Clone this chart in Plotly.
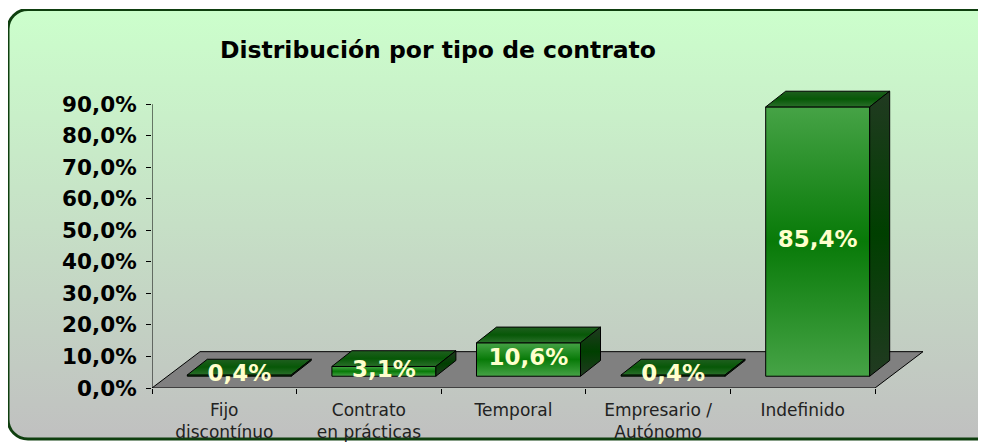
import base64
import plotly.graph_objects as go

# ---- data ----
categories = ["Fijo<br>discontínuo", "Contrato<br>en prácticas", "Temporal",
              "Empresario /<br>Autónomo", "Indefinido"]
values = [0.4, 3.1, 10.6, 0.4, 85.4]
y_tick_values = [0, 10, 20, 30, 40, 50, 60, 70, 80, 90]
y_tick_labels = [f"{v:.1f}".replace(".", ",") + "%" for v in y_tick_values]
value_labels = [f"{v:.1f}".replace(".", ",") + "%" for v in values]
title_text = "Distribución por tipo de contrato"

# ---- layout constants (pixels, figure coordinates; the page adds an 8px body margin) ----
W, H = 986, 446
ML, MR, MT, MB = 144, 54, 52, 60
plot_w = W - ML - MR
plot_h = H - MT - MB
PX_PER_SLOT = 144.6
PX_PER_PCT = 3.211
X_MIN = -0.5
X_MAX = X_MIN + plot_w / PX_PER_SLOT
Y_MAX = plot_h / PX_PER_PCT
ux = 1.0 / PX_PER_SLOT   # data units per pixel (x)
uy = 1.0 / PX_PER_PCT    # data units per pixel (y)

FLOOR_DX, FLOOR_DY = 48, 37
BAR_OFF_DX, BAR_OFF_DY = 15, 12
BAR_DEPTH_DX, BAR_DEPTH_DY = 20, 16
BAR_HALF_W = 52

FRONT_CS = [[0, "#46a346"], [0.5, "#087a08"], [1, "#46a346"]]
TOP_CS = [[0, "#2a6f2a"], [0.5, "#075807"], [1, "#1f5f1f"]]
SIDE_CS = [[0, "#213a21"], [0.5, "#003f00"], [1, "#213a21"]]

fig = go.Figure()

n = len(categories)
# floor
fx = [X_MIN, X_MIN + n, X_MIN + n + FLOOR_DX * ux, X_MIN + FLOOR_DX * ux, X_MIN]
fy = [0, 0, FLOOR_DY * uy, FLOOR_DY * uy, 0]
fig.add_trace(go.Scatter(x=fx, y=fy, mode="lines", fill="toself",
                         fillcolor="#808080", line=dict(color="black", width=1),
                         hoverinfo="skip", showlegend=False))


def face(xs, ys, cs):
    fig.add_trace(go.Scatter(
        x=xs + [xs[0]], y=ys + [ys[0]], mode="lines", fill="toself",
        fillgradient=dict(type="vertical", colorscale=cs),
        line=dict(color="black", width=1), hoverinfo="skip", showlegend=False))


lab_x, lab_y = [], []
for i, v in enumerate(values):
    x0 = i + (BAR_OFF_DX - BAR_HALF_W) * ux
    x1 = i + (BAR_OFF_DX + BAR_HALF_W) * ux
    y0 = BAR_OFF_DY * uy
    y1 = y0 + v
    ddx, ddy = BAR_DEPTH_DX * ux, BAR_DEPTH_DY * uy
    face([x0, x1, x1, x0], [y0, y0, y1, y1], FRONT_CS)
    face([x0, x1, x1 + ddx, x0 + ddx], [y1, y1, y1 + ddy, y1 + ddy], TOP_CS)
    face([x1, x1 + ddx, x1 + ddx, x1], [y0, y0 + ddy, y1 + ddy, y1], SIDE_CS)
    lab_x.append(i + BAR_OFF_DX * ux)
    lab_y.append(y0 + v / 2)

fig.add_trace(go.Scatter(
    x=lab_x, y=lab_y, mode="text", text=value_labels,
    textposition="middle center",
    textfont=dict(family="DejaVu Sans", size=23, color="#ffffcc", weight="bold"),
    hoverinfo="skip", showlegend=False, cliponaxis=False))

# y axis line
fig.add_shape(type="line", x0=X_MIN, x1=X_MIN, y0=0, y1=y_tick_values[-1],
              xref="x", yref="y", line=dict(color="black", width=1))

# background with rounded border
svg = (
    f'<svg xmlns="http://www.w3.org/2000/svg" width="{W}" height="{H}" '
    f'viewBox="0 0 {W} {H}" preserveAspectRatio="none">'
    '<defs><linearGradient id="g" x1="0" y1="0" x2="0" y2="1">'
    '<stop offset="0" stop-color="#ccffcc"/><stop offset="1" stop-color="#c0c0c0"/>'
    '</linearGradient></defs>'
    '<rect x="0" y="0.5" width="990" height="437.5" rx="20" ry="20" '
    'fill="url(#g)" stroke="#0f3f0f" stroke-width="3"/></svg>'
)
src = "data:image/svg+xml;base64," + base64.b64encode(svg.encode("utf-8")).decode()
fig.add_layout_image(dict(
    source=src, xref="paper", yref="paper",
    x=-ML / plot_w, y=1 + MT / plot_h, sizex=W / plot_w, sizey=H / plot_h,
    xanchor="left", yanchor="top", sizing="stretch", layer="below"))

fig.update_layout(
    width=W, height=H,
    margin=dict(l=ML, r=MR, t=MT, b=MB, pad=0),
    paper_bgcolor="white", plot_bgcolor="rgba(0,0,0,0)",
    title=dict(text="<b>" + title_text + "</b>", x=430 / W, xanchor="center",
               y=1 - 42 / H, yanchor="middle", xref="container", yref="container",
               font=dict(family="DejaVu Sans", size=23.5, color="black")),
    xaxis=dict(range=[X_MIN, X_MAX], tickmode="array",
               tickvals=list(range(n)), ticktext=categories, ticks="",
               showgrid=False, zeroline=False, showline=False,
               ticklabelstandoff=10,
               tickfont=dict(family="DejaVu Sans", size=17, color="#222222"),
               minor=dict(tickmode="array",
                          tickvals=[X_MIN + k for k in range(n + 1)],
                          ticks="outside", ticklen=5, tickcolor="black",
                          tickwidth=1, showgrid=False),
               fixedrange=True),
    yaxis=dict(range=[0, Y_MAX], tickmode="array", tickvals=y_tick_values,
               ticktext=y_tick_labels, ticks="outside", ticklen=5,
               tickcolor="black", showgrid=False, zeroline=False, showline=False,
               ticklabelstandoff=5,
               tickfont=dict(family="DejaVu Sans", size=21.5, color="black",
                             weight="bold"),
               fixedrange=True),
    showlegend=False,
)

fig.write_html("out.html", config={"displayModeBar": False})
